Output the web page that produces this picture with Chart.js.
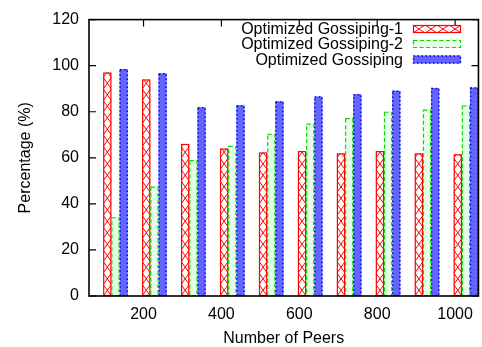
<!DOCTYPE html>
<html><head><meta charset="utf-8">
<script src="https://cdn.jsdelivr.net/npm/chart.js@4/dist/chart.umd.min.js"></script>
<style>html,body{margin:0;padding:0;background:#fff;} canvas{display:block;}</style>
</head><body>
<canvas id="c" width="482" height="347"></canvas>
<script>
// ---- data ----
const peers = [100, 200, 300, 400, 500, 600, 700, 800, 900, 1000];
const gossiping1 = [97, 94, 66, 64, 62.3, 62.9, 61.9, 62.9, 61.9, 61.5];
const gossiping2 = [34.2, 47.5, 59, 65.2, 70.4, 74.8, 77.2, 80, 80.9, 82.7];
const gossiping = [98.5, 96.7, 82, 82.8, 84.5, 86.6, 87.6, 89.1, 90.3, 90.5];
const xTickLabels = [200, 400, 600, 800, 1000];
const yTickLabels = [0, 20, 40, 60, 80, 100, 120];
const seriesNames = ['Optimized Gossiping-1', 'Optimized Gossiping-2', 'Optimized Gossiping'];

// ---- styles ----
const FAMILY = '"Liberation Sans", Arial, Helvetica, sans-serif';
const FONT = {family: FAMILY, size: 16};
const fills = ['#ffffff', '#e6fde6', '#6464ff'];

function hatch(ctx, l, t, r, b, vertical) {
  ctx.save();
  ctx.beginPath(); ctx.rect(l, t, r - l, b - t); ctx.clip();
  ctx.strokeStyle = '#ff0000'; ctx.lineWidth = 1;
  ctx.beginPath();
  if (vertical) {
    const p = 11.5;
    for (let y = b; y > t - p; y -= p) {
      ctx.moveTo(l, y); ctx.lineTo(r, y - p);
      ctx.moveTo(r, y); ctx.lineTo(l, y - p);
    }
  } else {
    const p = 12;
    for (let x = l; x < r; x += p) {
      ctx.moveTo(x, t); ctx.lineTo(x + p, b);
      ctx.moveTo(x + p, t); ctx.lineTo(x, b);
    }
  }
  ctx.stroke();
  ctx.restore();
}

function decorate(ctx, idx, l, t, r, b, vertical) {
  ctx.save();
  if (idx === 0) {
    hatch(ctx, l, t, r, b, vertical);
    ctx.strokeStyle = '#ff0000'; ctx.lineWidth = 1.2; ctx.setLineDash([]);
  } else if (idx === 1) {
    ctx.strokeStyle = '#00dd00'; ctx.lineWidth = 1.2; ctx.setLineDash([4, 2.5]);
  } else {
    ctx.strokeStyle = '#0000ee'; ctx.lineWidth = 1.4; ctx.setLineDash([1.5, 2.5]);
  }
  ctx.strokeRect(l + 0.5, t + 0.5, r - l - 1, b - t - 1);
  ctx.restore();
}

const framePlugin = {
  id: 'frame',
  beforeDatasetsDraw(chart) {
    const ctx = chart.ctx, a = chart.chartArea;
    const sx = chart.scales.x, sy = chart.scales.y;
    ctx.save();
    ctx.strokeStyle = '#000'; ctx.lineWidth = 1.2;
    ctx.beginPath();
    yTickLabels.forEach(v => {
      const y = sy.getPixelForValue(v);
      ctx.moveTo(a.left, y); ctx.lineTo(a.left + 7, y);
      ctx.moveTo(a.right, y); ctx.lineTo(a.right - 7, y);
    });
    xTickLabels.forEach(v => {
      const x = sx.getPixelForValue(v);
      ctx.moveTo(x, a.bottom); ctx.lineTo(x, a.bottom - 7);
      ctx.moveTo(x, a.top); ctx.lineTo(x, a.top + 7);
    });
    ctx.stroke();
    ctx.restore();
  },
  afterDatasetsDraw(chart) {
    const ctx = chart.ctx, a = chart.chartArea;
    chart.data.datasets.forEach((ds, i) => {
      const meta = chart.getDatasetMeta(i);
      meta.data.forEach(el => {
        const p = el.getProps(['x', 'y', 'base', 'width'], true);
        const l = p.x - p.width / 2, r = p.x + p.width / 2;
        decorate(ctx, i, l, Math.min(p.y, p.base), r, Math.max(p.y, p.base), true);
      });
    });
    ctx.save();
    ctx.strokeStyle = '#000'; ctx.lineWidth = 1.6;
    ctx.strokeRect(a.left, a.top, a.right - a.left, a.bottom - a.top);
    ctx.restore();
  },
  afterDraw(chart) {
    const ctx = chart.ctx;
    const textRight = 403, sl = 413, sr = 461;
    const rows = [29, 44, 59.5];
    ctx.save();
    ctx.font = '16px ' + FAMILY;
    ctx.fillStyle = '#000';
    ctx.textAlign = 'right';
    ctx.textBaseline = 'middle';
    chart.data.datasets.forEach((ds, i) => {
      const cy = rows[i];
      ctx.fillStyle = '#000';
      ctx.fillText(ds.label, textRight, cy + 1);
      const t = cy - 4, b = cy + 4;
      ctx.fillStyle = ds.backgroundColor;
      ctx.fillRect(sl, t, sr - sl, b - t);
      decorate(ctx, i, sl, t, sr, b, false);
    });
    ctx.restore();
  }
};

const series = [gossiping1, gossiping2, gossiping];
const datasets = series.map((vals, i) => ({
  label: seriesNames[i],
  data: peers.map((p, k) => ({x: p, y: vals[k]})),
  backgroundColor: fills[i],
  borderWidth: 0,
  xAxisID: 'xb',
  yAxisID: 'y',
  categoryPercentage: 0.63,
  barPercentage: 1.0
}));

new Chart(document.getElementById('c'), {
  type: 'bar',
  data: {datasets},
  options: {
    responsive: false,
    animation: false,
    devicePixelRatio: 1,
    layout: {padding: {top: 13, right: 2, left: 0, bottom: 0}},
    plugins: {legend: {display: false}, tooltip: {enabled: false}},
    scales: {
      x: {
        type: 'linear', position: 'bottom', min: 60, max: 1060, offset: false,
        grid: {display: false, drawTicks: false}, border: {display: false},
        ticks: {color: '#000', font: FONT, padding: 9, maxRotation: 0, autoSkip: false,
                callback: v => String(v)},
        afterBuildTicks: s => { s.ticks = xTickLabels.map(v => ({value: v})); },
        afterFit: s => { s.height = 51; },
        title: {display: true, text: 'Number of Peers', color: '#000', font: FONT,
                padding: {top: 0, bottom: -1}}
      },
      xb: {
        type: 'linear', display: false, min: 32, max: 1032, offset: false,
        afterBuildTicks: s => { s.ticks = peers.map(v => ({value: v})); }
      },
      y: {
        type: 'linear', position: 'left', min: 0, max: 120,
        grid: {display: false, drawTicks: false}, border: {display: false},
        ticks: {color: '#000', font: FONT, padding: 10, callback: v => String(v)},
        afterBuildTicks: s => { s.ticks = yTickLabels.map(v => ({value: v})); },
        afterFit: s => { s.width = 89; },
        title: {display: true, text: 'Percentage (%)', color: '#000', font: FONT,
                padding: {top: 16, bottom: 0}}
      }
    }
  },
  plugins: [framePlugin]
});
</script>
</body></html>
